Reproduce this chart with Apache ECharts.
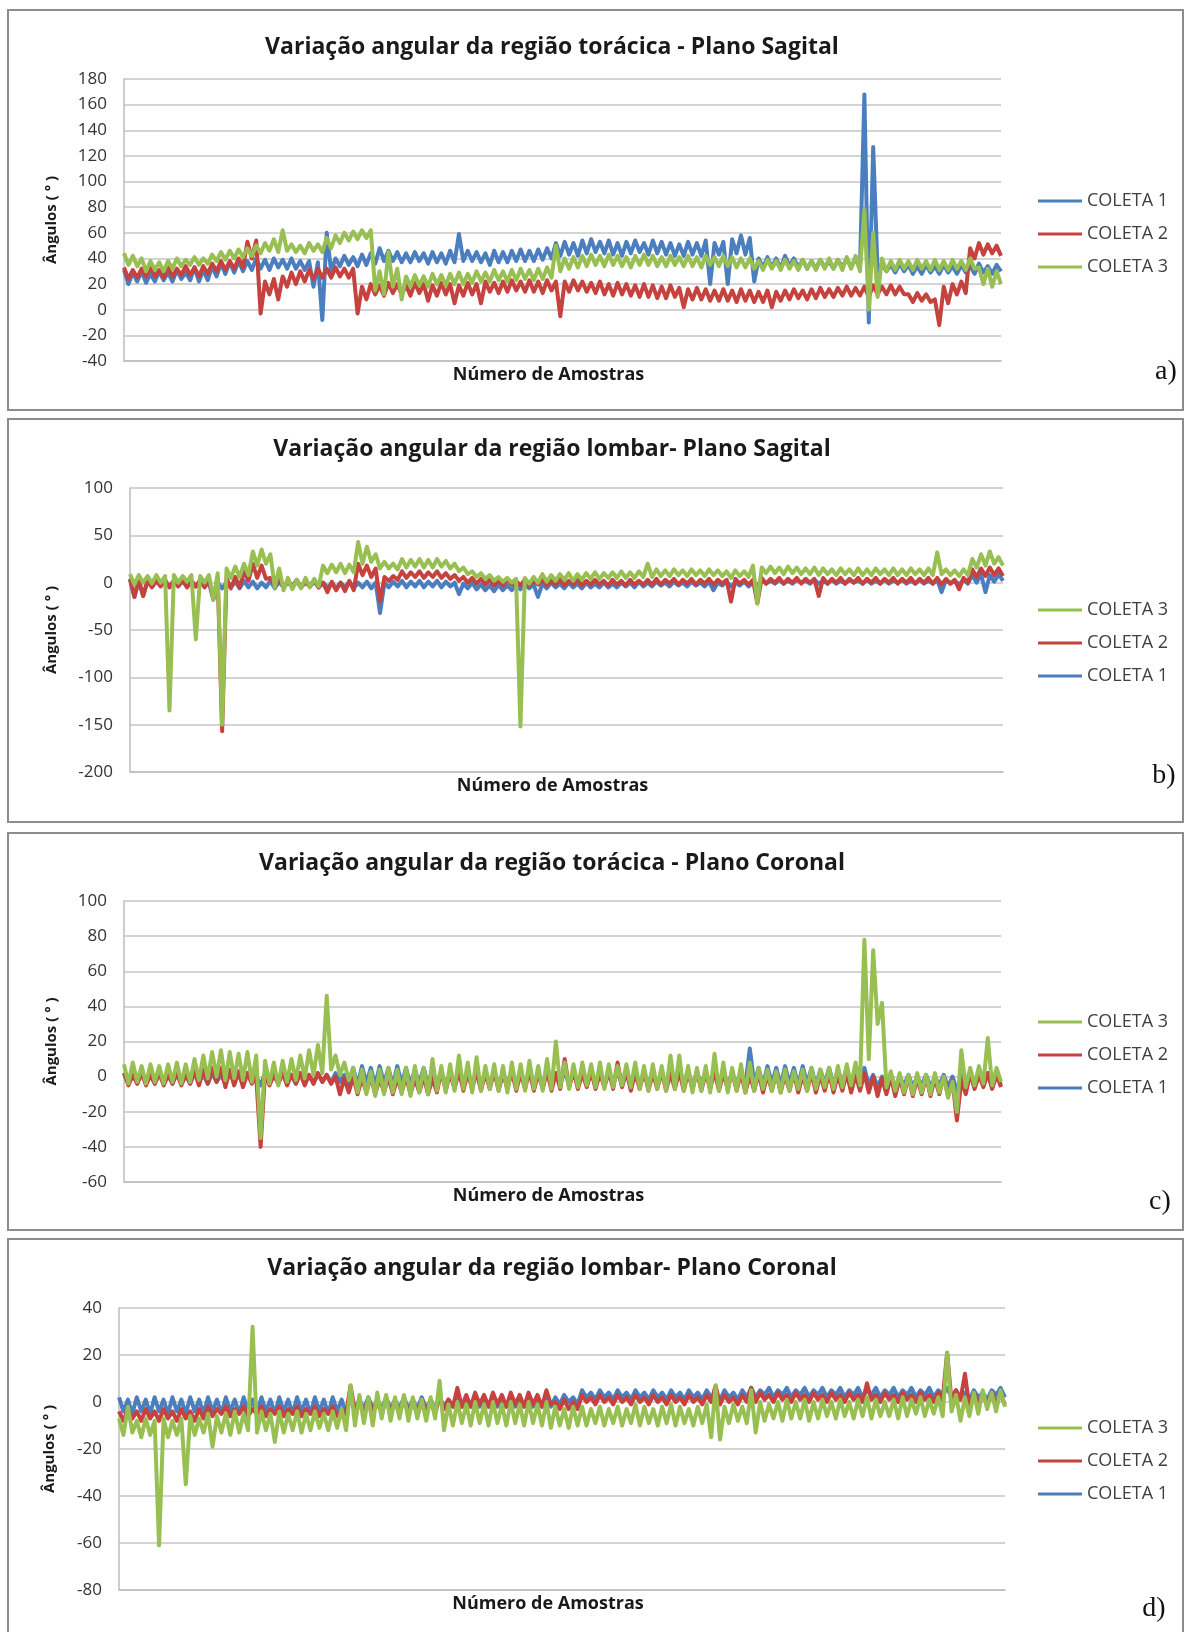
<!DOCTYPE html>
<html><head><meta charset="utf-8">
<script src="https://cdn.jsdelivr.net/npm/echarts@6/dist/echarts.min.js"></script>
<style>html,body{margin:0;padding:0;background:#fff}#c{width:1186px;height:1632px}</style>
</head><body><div id="c"></div>
<script>
// ---------- text ----------
const panelTitles = [
  'Variação angular da região torácica - Plano Sagital',
  'Variação angular da região lombar- Plano Sagital',
  'Variação angular da região torácica - Plano Coronal',
  'Variação angular da região lombar- Plano Coronal'
];
const panelTags = ['a)', 'b)', 'c)', 'd)'];
const seriesNames = ['COLETA 1', 'COLETA 2', 'COLETA 3'];
const legendOrders = [
  ['COLETA 1', 'COLETA 2', 'COLETA 3'],
  ['COLETA 3', 'COLETA 2', 'COLETA 1'],
  ['COLETA 3', 'COLETA 2', 'COLETA 1'],
  ['COLETA 3', 'COLETA 2', 'COLETA 1']
];
const yAxisName = 'Ângulos ( ° )';
const xAxisName = 'Número de Amostras';
// ---------- y scales ----------
const yMins = [-40, -200, -60, -80];
const yMaxs = [180, 100, 100, 40];
const ySteps = [20, 50, 20, 20];
// ---------- samples (x categories) ----------
const samples = Array.from({length: 200}, (_, i) => i + 1);

// ---------- a) torácica sagital ----------
const blueA = [
31,20, 29,22, 30,21, 28,22, 30,23, 29,22, 31,24, 29,23, 33,22, 31,23,
34,26, 36,28, 37,29, 38,30, 38,31, 40,32, 39,31, 40,33, 39,32, 40,32,
38,31, 38,18, 37,-8, 60,30, 40,34, 42,35, 41,34, 43,35, 44,36, 48,38,
46,38, 45,37, 44,37, 45,38, 44,36, 45,37, 44,36, 46,37, 59,38, 46,38,
45,37, 44,35, 46,37, 45,37, 46,38, 47,38, 46,38, 47,39, 48,40, 52,42,
53,43, 52,42, 54,44, 55,45, 53,44, 54,43, 52,42, 53,44, 54,45, 52,43,
54,44, 53,43, 52,42, 51,42, 53,43, 52,42, 54,20, 52,43, 53,20, 55,44,
58,43, 56,22, 40,33, 41,33, 40,32, 42,34, 40,33, 39,32, 38,32, 39,33,
38,32, 39,33, 40,33, 40,32, 168,-10, 127,30, 36,30, 35,29, 36,30, 35,28,
34,28, 35,29, 34,28, 35,29, 34,28, 35,29, 34,28, 36,29, 34,28, 35,30];
const redA = [
33,24, 31,25, 32,26, 33,26, 31,25, 33,26, 32,27, 34,27, 33,26, 34,28,
36,30, 38,31, 38,32, 40,33, 53,40, 54,-3, 22,12, 24,8, 26,18, 29,20,
30,22, 31,24, 32,25, 32,25, 33,26, 32,25, 32,-3, 18,8, 20,12, 19,11,
21,13, 20,12, 19,11, 21,13, 20,7, 19,11, 21,12, 20,5, 19,11, 21,12,
20,5, 22,14, 21,13, 22,14, 23,15, 22,14, 23,14, 22,13, 23,15, 22,-5,
22,14, 23,15, 22,14, 21,13, 22,12, 20,11, 21,12, 20,11, 19,10, 20,10,
19,9, 18,9, 19,10, 17,2, 16,8, 17,8, 16,7, 15,7, 16,7, 15,6,
16,7, 15,6, 14,6, 15,2, 14,7, 15,8, 16,9, 15,8, 16,9, 17,10,
16,10, 17,11, 18,11, 17,11, 18,10, 19,12, 18,12, 19,12, 18,12, 12,6,
13,7, 12,6, 8,-12, 18,5, 20,12, 22,13, 48,40, 52,43, 51,44, 50,42];
const greenA = [
44,35, 42,34, 40,30, 38,31, 37,30, 38,32, 40,34, 39,35, 41,35, 40,36,
43,38, 45,39, 46,40, 47,41, 48,42, 50,44, 52,46, 55,45, 62,46, 51,45,
50,44, 52,46, 51,45, 56,48, 58,52, 60,54, 61,55, 62,56, 62,15, 30,12,
45,18, 32,8, 26,18, 27,19, 26,18, 28,20, 27,19, 28,20, 29,20, 28,21,
30,22, 29,22, 31,23, 30,22, 31,23, 32,24, 31,23, 32,24, 33,25, 50,30,
40,32, 41,33, 42,34, 43,35, 42,34, 43,35, 42,34, 41,33, 42,35, 43,35,
42,34, 41,34, 42,35, 41,34, 42,34, 41,33, 42,35, 41,34, 42,34, 41,33,
40,33, 40,32, 38,31, 39,32, 38,31, 39,32, 38,31, 39,32, 38,31, 39,32,
40,32, 39,31, 41,32, 42,30, 78,0, 60,10, 40,30, 38,31, 39,32, 38,31,
39,32, 38,31, 39,31, 38,31, 39,32, 38,31, 40,32, 33,20, 32,18, 30,20];

// ---------- b) lombar sagital ----------
const blueB = [
3,-15, 2,-14, 1,-4, 2,-3, 1,-4, 2,-3, 1,-4, 2,-4, 1,-3, 0,-18,
0,-6, 0,-5, 1,-6, 2,-5, 1,-6, 0,-5, 2,-6, 1,-5, 0,-4, 1,-5,
0,-4, 1,-5, 0,-5, -1,-6, 0,-5, 1,-6, 0,-5, 1,-6, 0,-32, 0,-5,
1,-4, 2,-5, 1,-4, 2,-5, 1,-4, 2,-5, 1,-4, 0,-12, -1,-6, 0,-7,
-2,-8, -3,-9, -2,-8, -3,-8, -2,-7, -1,-6, -2,-15, -1,-6, 0,-5, -1,-6,
0,-5, -1,-6, 0,-5, -1,-5, 0,-5, -1,-5, 0,-4, 0,-5, 1,-4, 0,-4,
1,-3, 0,-4, 1,-3, 0,-4, 1,-3, 0,-4, 1,-8, 0,-3, 1,-4, 0,-3,
1,-4, 0,-3, 3,-1, 2,-1, 3,-1, 2,-1, 3,0, 2,-1, 3,-1, 2,-1,
3,-1, 2,-1, 3,0, 2,-1, 3,-1, 2,-1, 3,-1, 2,0, 3,-1, 2,-1,
3,-1, 2,-1, 3,-10, 3,-1, 2,-2, 3,-1, 8,0, 9,-10, 8,1, 9,2];
const redB = [
4,-15, 3,-14, 3,-5, 2,-4, 3,-5, 2,-4, 3,-5, 2,-4, 3,-5, 2,-16,
4,-157, 5,-6, 6,-5, 12,2, 20,5, 18,4, 5,-3, 3,-5, 2,-4, 3,-5,
2,-4, 3,-5, 0,-10, 1,-8, 0,-9, 2,-8, 20,8, 18,6, 15,-20, 6,2,
7,3, 12,5, 11,6, 12,5, 11,6, 12,5, 10,4, 8,2, 6,0, 5,-1,
4,-2, 3,-3, 2,-3, 3,-2, 2,-3, 3,-3, 2,-2, 3,-3, 2,-2, 3,-3,
2,-2, 3,-3, 2,-2, 3,-2, 2,-3, 3,-2, 2,-3, 3,-2, 2,-2, 3,-2,
4,-2, 3,-1, 4,-2, 3,-1, 4,-2, 3,-1, 4,-2, 3,-1, 3,-20, 4,-1,
3,-2, 3,-22, 5,-1, 4,0, 5,-1, 4,0, 5,-1, 4,0, 4,-14, 5,-1,
4,0, 5,-1, 4,0, 5,-1, 4,0, 5,-1, 4,0, 5,-1, 4,0, 5,-1,
4,0, 5,-1, 5,-2, 4,-1, 3,-7, 5,0, 14,6, 15,7, 16,8, 15,7];
const greenB = [
9,-2, 8,0, 7,-1, 8,0, 7,-135, 8,0, 7,1, 8,-60, 7,0, 8,-18,
10,-150, 15,5, 17,6, 20,8, 33,18, 35,20, 30,-5, 15,-8, 5,-7, 3,-6,
5,-5, 4,-4, 18,10, 19,11, 20,10, 19,11, 43,20, 38,22, 30,15, 22,15,
20,14, 25,16, 24,17, 25,16, 24,16, 25,17, 23,15, 20,12, 16,9, 12,6,
10,4, 8,2, 6,1, 5,0, 4,-152, 5,-1, 6,0, 9,1, 8,2, 9,3,
10,2, 9,3, 10,4, 11,4, 10,5, 11,5, 12,5, 11,5, 12,6, 20,6,
14,7, 13,7, 14,8, 13,7, 14,8, 13,7, 14,8, 13,7, 12,5, 13,7,
12,6, 18,-22, 16,10, 17,10, 16,9, 17,10, 16,9, 15,9, 16,8, 15,9,
14,8, 15,9, 14,8, 15,8, 14,8, 15,9, 14,8, 15,8, 14,8, 15,9,
14,8, 15,8, 32,9, 14,8, 13,7, 14,8, 25,16, 30,18, 33,20, 27,18];

// ---------- c) torácica coronal ----------
const blueC = [
2,-3, 1,-4, 2,-3, 1,-4, 2,-3, 1,-4, 2,-3, 1,-4, 2,-3, 1,-4,
2,-3, 1,-4, 2,-3, 1,-4, 2,-3, 0,-5, 2,-3, 1,-4, 2,-3, 1,-4,
2,-3, 1,-4, 2,-3, 1,-4, 2,-3, 1,-4, 5,-5, 6,-4, 5,-5, 6,-4,
5,-5, 6,-4, 5,-5, 4,-4, 5,-5, 4,-4, 3,-5, 2,-4, 3,-5, 2,-4,
3,-5, 2,-4, 3,-5, 2,-4, 3,-5, 2,-4, 3,-5, 2,-4, 3,-5, 2,-4,
3,-5, 2,-4, 3,-5, 2,-4, 3,-5, 2,-4, 3,-5, 2,-4, 3,-5, 2,-4,
3,-5, 2,-4, 3,-5, 2,-4, 3,-5, 2,-4, 3,-5, 2,-4, 3,-5, 2,-4,
3,-5, 16,-4, 5,-5, 6,-4, 5,-5, 6,-4, 5,-5, 6,-4, 5,-5, 4,-4,
5,-5, 4,-4, 5,-5, 4,-4, 5,-5, 1,-6, 0,-5, 1,-6, 0,-5, 1,-6,
0,-5, 1,-6, 0,-5, 1,-6, 0,-8, 1,-7, 2,-6, 1,-5, 2,-6, 1,-5];
const redC = [
2,-5, 1,-4, 2,-5, 1,-4, 2,-5, 1,-4, 2,-5, 1,-4, 3,-5, 4,-4,
5,-3, 5,-6, 4,-5, 3,-6, 2,-4, 0,-40, 2,-5, 1,-4, 2,-5, 1,-4,
2,-5, 1,-4, 2,-3, 1,-4, 0,-10, -1,-9, 0,-10, -1,-9, 0,-10, -1,-9,
0,-10, -1,-9, 0,-10, -1,-9, 0,-10, -1,-9, 3,-8, 2,-7, 3,-8, 2,-7,
3,-8, 2,-7, 3,-8, 2,-7, 3,-8, 2,-7, 3,-8, 2,-7, 3,-8, 2,-7,
10,-6, 3,-7, 2,-6, 3,-7, 2,-6, 3,-7, 8,-6, 3,-8, 2,-7, 3,-8,
2,-7, 3,-8, 2,-7, 3,-8, 2,-7, 3,-8, 2,-7, 3,-8, 2,-7, 3,-8,
2,-9, 1,-8, 2,-9, 1,-8, 2,-9, 1,-8, 2,-9, 1,-8, 2,-9, 1,-8,
2,-9, 1,-8, 2,-9, 1,-8, 2,-9, 0,-11, -1,-10, 0,-11, -1,-10, 0,-11,
-1,-10, 0,-11, -1,-10, 0,-11, -3,-25, -2,-10, 2,-7, 1,-6, 2,-7, 1,-6];
const greenC = [
7,-4, 8,-3, 6,-4, 7,-3, 6,-4, 7,-3, 8,-4, 7,-3, 10,-2, 12,-1,
14,0, 15,-2, 14,-1, 13,-2, 14,-3, 12,-35, 9,-4, 8,-5, 9,-3, 10,-2,
12,-1, 15,1, 18,2, 46,4, 12,1, 8,-2, 5,-9, 4,-10, 3,-11, 4,-10,
5,-9, 4,-10, 5,-11, 6,-9, 5,-10, 10,-8, 6,-9, 7,-8, 12,-7, 8,-9,
11,-8, 6,-7, 7,-8, 6,-9, 8,-7, 7,-8, 9,-7, 6,-8, 10,-7, 20,-6,
8,-7, 7,-6, 8,-5, 7,-6, 8,-7, 7,-6, 6,-5, 7,-6, 8,-7, 6,-8,
7,-7, 6,-8, 12,-7, 12,-8, 6,-9, 5,-8, 6,-9, 13,-8, 8,-9, 5,-8,
7,-9, 8,-8, 5,-7, 4,-8, 3,-9, 4,-8, 3,-7, 4,-8, 5,-7, 4,-6,
5,-7, 6,-6, 7,-5, 8,-5, 78,10, 72,30, 42,-6, 3,-8, 2,-9, 1,-10,
2,-9, 1,-10, 2,-9, 0,-12, -3,-20, 15,-6, 5,-5, 6,-4, 22,-5, 5,-3];

// ---------- d) lombar coronal ----------
const blueD = [
2,-4, 1,-5, 2,-4, 1,-5, 2,-4, 1,-5, 2,-4, 1,-5, 2,-4, 1,-5,
2,-4, 1,-5, 2,-4, 1,-5, 2,-4, 1,-5, 2,-4, 1,-5, 2,-4, 1,-5,
2,-4, 1,-5, 2,-4, 1,-5, 2,-4, 1,-5, 3,-3, 1,-3, 2,-3, 1,-3,
2,-3, 1,-3, 2,-3, 1,-3, 2,-3, 1,-3, 2,-2, 1,-2, 2,-2, 1,-2,
2,-2, 1,-2, 2,-2, 1,-2, 2,-2, 1,-2, 2,-2, 1,-2, 2,-2, 2,-1,
3,0, 2,-1, 5,2, 4,1, 5,2, 4,1, 5,2, 4,1, 5,2, 4,1,
5,2, 4,1, 5,2, 4,1, 5,2, 4,1, 5,2, 4,1, 5,2, 4,1,
5,2, 6,2, 5,3, 6,2, 5,3, 6,2, 5,3, 6,2, 5,3, 6,2,
5,3, 6,2, 5,3, 6,2, 5,3, 6,2, 5,3, 6,2, 5,3, 6,2,
5,3, 6,2, 5,3, 6,2, 5,2, 4,1, 5,2, 4,1, 5,3, 6,2];
const redD = [
-4,-8, -3,-7, -4,-8, -3,-7, -4,-8, -3,-7, -4,-8, -3,-7, -4,-8, -3,-7,
-2,-6, -3,-5, -2,-6, -3,-5, -2,-6, -3,-5, -2,-6, -3,-5, -2,-6, -3,-5,
-2,-6, -3,-5, -2,-6, -3,-5, -2,-6, -3,-5, 7,-4, 0,-5, 1,-4, 0,-5,
1,-4, 0,-5, 1,-4, 0,-5, 1,-4, 0,-5, 2,-3, 1,-2, 6,-2, 3,-2,
4,-1, 3,-2, 4,-1, 3,-2, 4,-1, 3,-2, 4,-1, 3,-2, 5,-1, 0,-3,
1,-3, 0,-3, 3,0, 2,-1, 3,0, 2,-1, 3,0, 2,-1, 3,0, 2,-1,
3,0, 2,-1, 3,0, 2,-1, 3,0, 2,-1, 3,0, 7,-1, 3,0, 2,-1,
3,0, 6,0, 4,1, 3,0, 4,1, 3,0, 4,1, 3,0, 4,1, 3,0,
4,1, 3,0, 4,1, 3,0, 8,1, 3,0, 4,1, 3,0, 4,1, 3,0,
4,1, 3,0, 4,1, 21,0, 5,1, 12,-2, 4,0, 3,-1, 4,0, 3,-1];
const greenD = [
-7,-14, -2,-13, -8,-15, -7,-14, -8,-61, -7,-15, -8,-14, -7,-35, -6,-14, -7,-13,
-5,-19, -6,-13, -5,-14, -4,-13, -5,-12, 32,-13, -4,-12, -5,-17, -4,-13, -5,-12,
-4,-13, -5,-12, -4,-11, -5,-12, -4,-11, -3,-12, 7,-10, 3,-9, 2,-10, 4,-7,
3,-8, 2,-7, 3,-8, 2,-7, 1,-8, 2,-7, 9,-12, -1,-10, 0,-9, -1,-10,
0,-9, -1,-10, 0,-9, -1,-10, 0,-9, -1,-10, 0,-9, -1,-10, 0,-11, -2,-10,
-3,-11, -2,-10, -2,-10, -3,-9, -2,-10, -3,-9, -2,-10, -3,-9, -1,-10, -2,-9,
-3,-10, -2,-9, -1,-10, -2,-9, -3,-10, -2,-9, -1,-15, 7,-16, -2,-9, -1,-8,
-2,-9, 5,-13, 0,-8, -1,-7, 0,-8, 1,-7, 0,-7, 1,-8, 0,-7, 1,-6,
0,-7, 1,-6, 0,-7, 1,-6, 2,-7, 1,-6, 0,-6, 1,-7, 2,-6, 1,-5,
2,-6, 1,-5, 2,-6, 21,-4, 3,-8, 2,-6, 4,-5, 5,-3, 4,-4, 5,-2];

const panelData = [
  [blueA, redA, greenA],
  [blueB, redB, greenB],
  [blueC, redC, greenC],
  [blueD, redD, greenD]
];

// ---------- layout / style ----------
const colors = ['#4a7ebf', '#c6423f', '#98bf52'];
const layouts = [
  {box: [8, 10, 1175, 400],  grid: {left: 124, top: 79,   width: 877, height: 282}, titleTop: 36,   tagX: 1166, tagTop: 358,  legendTop: 192,  nameGap: 65},
  {box: [8, 419, 1175, 403], grid: {left: 130, top: 488,  width: 873, height: 284}, titleTop: 438,  tagX: 1164, tagTop: 762,  legendTop: 601,  nameGap: 71},
  {box: [8, 833, 1175, 397], grid: {left: 124, top: 901,  width: 877, height: 281}, titleTop: 852,  tagX: 1160, tagTop: 1188, legendTop: 1013, nameGap: 65},
  {box: [8, 1239, 1175, 420], grid: {left: 119, top: 1308, width: 886, height: 282}, titleTop: 1257, tagX: 1154, tagTop: 1595, legendTop: 1419, nameGap: 62}
];
const FONT = '"Open Sans", "Noto Sans", sans-serif';

const option = {
  animation: false,
  backgroundColor: '#ffffff',
  title: [], legend: [], grid: [], xAxis: [], yAxis: [], series: [], graphic: []
};

layouts.forEach((L, i) => {
  option.graphic.push({
    type: 'rect', silent: true, z: -1,
    shape: {x: L.box[0], y: L.box[1], width: L.box[2], height: L.box[3]},
    style: {fill: '#ffffff', stroke: '#8c8c8c', lineWidth: 2}
  });
  option.title.push({
    text: panelTitles[i], left: 552, top: L.titleTop, textAlign: 'center', padding: 0,
    textStyle: {fontFamily: FONT, fontSize: 23, fontWeight: 'bold', color: '#1a1a1a'}
  });
  option.title.push({
    text: panelTags[i], left: L.tagX, top: L.tagTop, textAlign: 'center', padding: 0,
    textStyle: {fontFamily: '"Liberation Serif", "DejaVu Serif", serif', fontSize: 28, fontWeight: 'normal', color: '#111'}
  });
  option.grid.push(Object.assign({containLabel: false}, L.grid));
  option.xAxis.push({
    type: 'category', gridIndex: i, data: samples, boundaryGap: false,
    axisLine: {show: true, onZero: false, lineStyle: {color: '#bdbdbd', width: 1.5}},
    axisTick: {show: false}, axisLabel: {show: false}, splitLine: {show: false},
    name: xAxisName, nameLocation: 'middle', nameGap: 5,
    nameTextStyle: {fontFamily: FONT, fontSize: 18, fontWeight: 'bold', color: '#1a1a1a', padding: [0, 28, 0, 0]}
  });
  option.yAxis.push({
    type: 'value', gridIndex: i, min: yMins[i], max: yMaxs[i], interval: ySteps[i],
    axisLine: {show: true, lineStyle: {color: '#bdbdbd', width: 1.5}},
    axisTick: {show: false},
    axisLabel: {fontFamily: FONT, fontSize: 17, color: '#333', margin: 17},
    splitLine: {show: true, lineStyle: {color: '#c4c4c4', width: 1.5}},
    name: yAxisName, nameLocation: 'middle', nameRotate: 90, nameGap: L.nameGap,
    nameTextStyle: {fontFamily: FONT, fontSize: 15, fontWeight: 'bold', color: '#1a1a1a'}
  });
  option.legend.push({
    data: legendOrders[i], orient: 'vertical', left: 1038, top: L.legendTop,
    padding: 0, itemGap: 15, itemWidth: 44, itemHeight: 3, icon: 'rect',
    selectedMode: false,
    textStyle: {fontFamily: FONT, fontSize: 18, color: '#404040', lineHeight: 18}
  });
  panelData[i].forEach((arr, k) => {
    option.series.push({
      type: 'line', name: seriesNames[k], xAxisIndex: i, yAxisIndex: i,
      data: arr, showSymbol: false, symbol: 'none',
      lineStyle: {color: colors[k], width: 4, join: 'round'},
      itemStyle: {color: colors[k]},
      emphasis: {disabled: true}, z: 2 + k
    });
  });
});

const chart = echarts.init(document.getElementById('c'), null, {renderer: 'canvas'});
chart.setOption(option);
</script>
</body></html>
